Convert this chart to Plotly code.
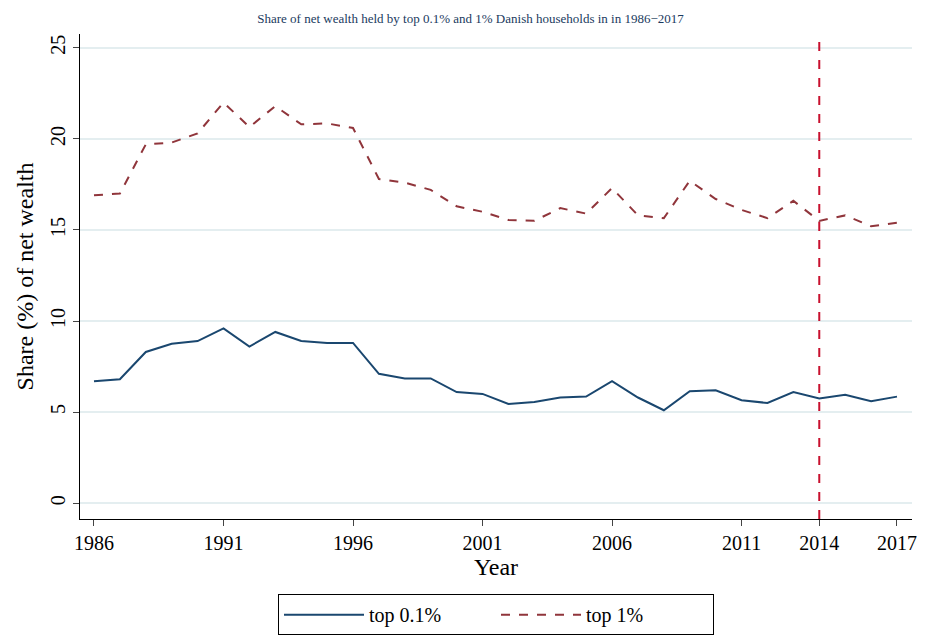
import plotly.graph_objects as go

years = list(range(1986, 2018))
top01 = [6.7, 6.8, 8.3, 8.75, 8.9, 9.6, 8.6, 9.4, 8.9, 8.8, 8.8, 7.1, 6.85, 6.85, 6.1, 6.0,
         5.45, 5.55, 5.8, 5.85, 6.7, 5.8, 5.1, 6.15, 6.2, 5.65, 5.5, 6.1, 5.75, 5.95, 5.6, 5.85]
top1 = [16.9, 17.0, 19.7, 19.8, 20.3, 22.0, 20.65, 21.8, 20.8, 20.85, 20.6, 17.8, 17.6, 17.2, 16.3, 16.0,
        15.55, 15.5, 16.2, 15.9, 17.3, 15.8, 15.65, 17.7, 16.7, 16.1, 15.65, 16.6, 15.5, 15.8, 15.2, 15.4]
xticks = [1986, 1991, 1996, 2001, 2006, 2011, 2014, 2017]
yticks = [0, 5, 10, 15, 20, 25]
marker_year = 2014

font = "Liberation Serif"
fig = go.Figure()
fig.add_trace(go.Scatter(x=years, y=top01, mode="lines", name="top 0.1%",
                         line=dict(color="#1a476f", width=2)))
fig.add_trace(go.Scatter(x=years, y=top1, mode="lines", name="top 1%",
                         line=dict(color="#90353b", width=2, dash="dash")))
fig.add_vline(x=marker_year, line=dict(color="#c8102e", width=2, dash="dash"))
fig.update_layout(
    width=925, height=639, plot_bgcolor="white", paper_bgcolor="white",
    margin=dict(l=72, r=21, t=26, b=123),
    font=dict(family=font, size=20, color="black"),
    title=dict(text="Share of net wealth held by top 0.1% and 1% Danish households in in 1986\u22122017",
               x=0.5, xanchor="center", y=0.99, yanchor="top",
               font=dict(size=13, color="#1a3a5e")),
    xaxis=dict(range=[1985.46, 2017.58], tickvals=xticks, showgrid=False, showline=True,
               linecolor="black", ticks="outside", ticklen=6, zeroline=False, automargin=False,
               title=dict(text="Year", standoff=2)),
    yaxis=dict(range=[-0.87, 25.76], tickvals=yticks, tickangle=-90, showgrid=True,
               gridcolor="#e4eef0", gridwidth=1.5, showline=True, linecolor="black",
               ticks="outside", ticklen=6, zeroline=False, automargin=False,
               title=dict(text="Share (%) of net wealth", standoff=6)),
    legend=dict(orientation="h", x=0.5, xanchor="center", y=-0.155, yanchor="top",
                bordercolor="black", borderwidth=1, font=dict(size=20),
                itemwidth=80, entrywidth=122),
)
fig.write_html("out.html")
